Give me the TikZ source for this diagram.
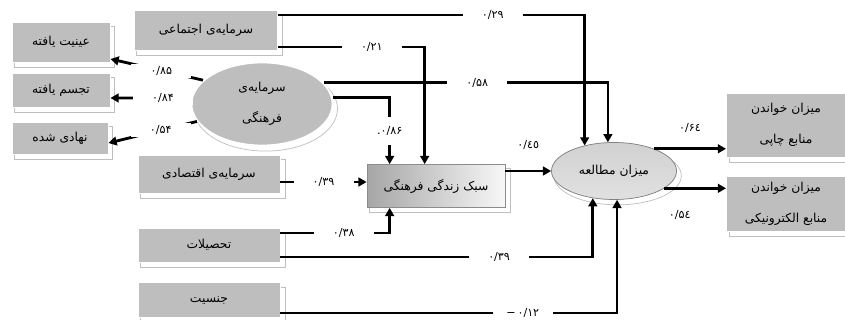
\documentclass[tikz,border=0pt]{standalone}
\usepackage{fontspec}
\usetikzlibrary{arrows.meta,shapes.geometric,shadows,calc}
\TeXXeTstate=1
\newfontfamily\farsi[Script=Arabic]{DejaVu Sans}
\newdimen\pxu
\pxu=0.03cm
\newcommand{\fa}[1]{\beginR#1\endR}
\definecolor{boxgray}{RGB}{190,190,190}
\tikzset{
  box/.style={rectangle, draw=white, line width=0.8pt, fill=boxgray, inner sep=0pt, align=center,
    font=\farsi\fontsize{10.5}{26}\selectfont,
    drop shadow={shadow xshift=3pt, shadow yshift=-4pt, shadow scale=1.02, fill=white, draw=black!25, line width=0.6pt, opacity=1}},
  factor/.style={box, ellipse, line width=1.5pt},
  val/.style={fill=white, inner sep=0pt, minimum width=60\pxu, minimum height=14\pxu, font=\farsi\fontsize{9.5}{11}\selectfont},
  lab/.style={inner sep=1pt, font=\farsi\fontsize{9.5}{11}\selectfont},
  arr/.style={line width=2.4pt, -{Triangle[length=7pt,width=7.5pt]}}
}
\begin{document}
\begin{tikzpicture}[x=0.03cm, y=-0.03cm]
  \useasboundingbox (0,0) rectangle (845,320);
  \node[box, minimum width=98\pxu, minimum height=40\pxu] (obj) at (61,42) {\fa{عینیت یافته}};
  \node[box, minimum width=98\pxu, minimum height=34\pxu] (emb) at (61,90) {\fa{تجسم یافته}};
  \node[box, minimum width=96\pxu, minimum height=32\pxu] (inst) at (60,138) {\fa{نهادی شده}};
  \node[box, minimum width=143\pxu, minimum height=40\pxu] (social) at (206,30) {\fa{سرمایه‌ی اجتماعی}};
  \node[factor, minimum width=141\pxu, minimum height=83\pxu] (cult) at (262,104) {\fa{سرمایه‌ی}\\\fa{فرهنگی}};
  \node[box, minimum width=142\pxu, minimum height=38\pxu] (econ) at (209,174) {\fa{سرمایه‌ی اقتصادی}};
  \node[box, minimum width=142\pxu, minimum height=34\pxu] (edu) at (209,245) {\fa{تحصیلات}};
  \node[box, minimum width=142\pxu, minimum height=35\pxu] (gender) at (209,300) {\fa{جنسیت}};
  \node[box, draw=black!45, line width=0.6pt, left color=black!35, right color=black!3,
    minimum width=138\pxu, minimum height=43\pxu] (life) at (436,186) {\fa{سبک زندگی فرهنگی}};
  \node[factor, draw=black!50, line width=0.6pt, top color=black!18, middle color=black!34, bottom color=black!12,
    minimum width=125\pxu, minimum height=57\pxu] (read) at (614,171) {\fa{میزان مطالعه}};
  \node[box, minimum width=119\pxu, minimum height=64\pxu] (print) at (786,125) {\fa{میزان خواندن}\\\fa{منابع چاپی}};
  \node[box, minimum width=119\pxu, minimum height=55\pxu] (elec) at (786,204) {\fa{میزان خواندن}\\\fa{منابع الکترونیکی}};
  \begin{scope}[arr]
    \draw ($(social.east)+(0,-15)$) -| (read.139) node[val, pos=0.35] {۰/۲۹};
    \draw ($(social.east)+(0,17)$) -| ($(life.north west)+(58,0)$) node[val, pos=0.32] {۰/۲۱};
    \draw (cult.19) -| (read.102) node[val, pos=0.27] {۰/۵۸};
    \draw (cult.5) -| ($(life.north west)+(23,0)$) node[val, pos=0.75, minimum width=20\pxu, minimum height=28\pxu] {۰/۸۶.};
    \draw ($(econ.east)+(0,8)$) coordinate (e1) -- (e1 -| life.west) node[val, midway] {۰/۳۹};
    \draw ($(edu.east)+(0,-12)$) -| ($(life.south west)+(23,0)$) node[val, pos=0.29] {۰/۳۸};
    \draw ($(edu.east)+(0,12)$) -| (read.232) node[val, pos=0.35] {۰/۳۹};
    \draw ($(gender.east)+(0,13)$) -| (read.276) node[val, pos=0.36] {−\,۰/۱۲};
    \draw (life.east |- read.west) -- (read.west) node[lab, midway, yshift=22pt] {٠/٤٥};
    \draw (read.29) -- (read.29 -| print.west) node[lab, midway, yshift=18pt] {۰/۶٤};
    \draw (read.-19) -- (read.-19 -| elec.west) node[lab, pos=0.25, yshift=-23pt] {۰/۵٤};
    \draw (cult.158) -- ($(obj.east)+(0,17)$) node[val, pos=0.45] {۰/۸۵};
    \draw (cult.175) -- ($(emb.east)+(0,8)$) node[val, pos=0.35] {۰/۸۴};
    \draw (cult.195) -- ($(inst.east)+(0,5)$) node[val, pos=0.41] {۰/۵۴};
  \end{scope}
\end{tikzpicture}
\end{document}
